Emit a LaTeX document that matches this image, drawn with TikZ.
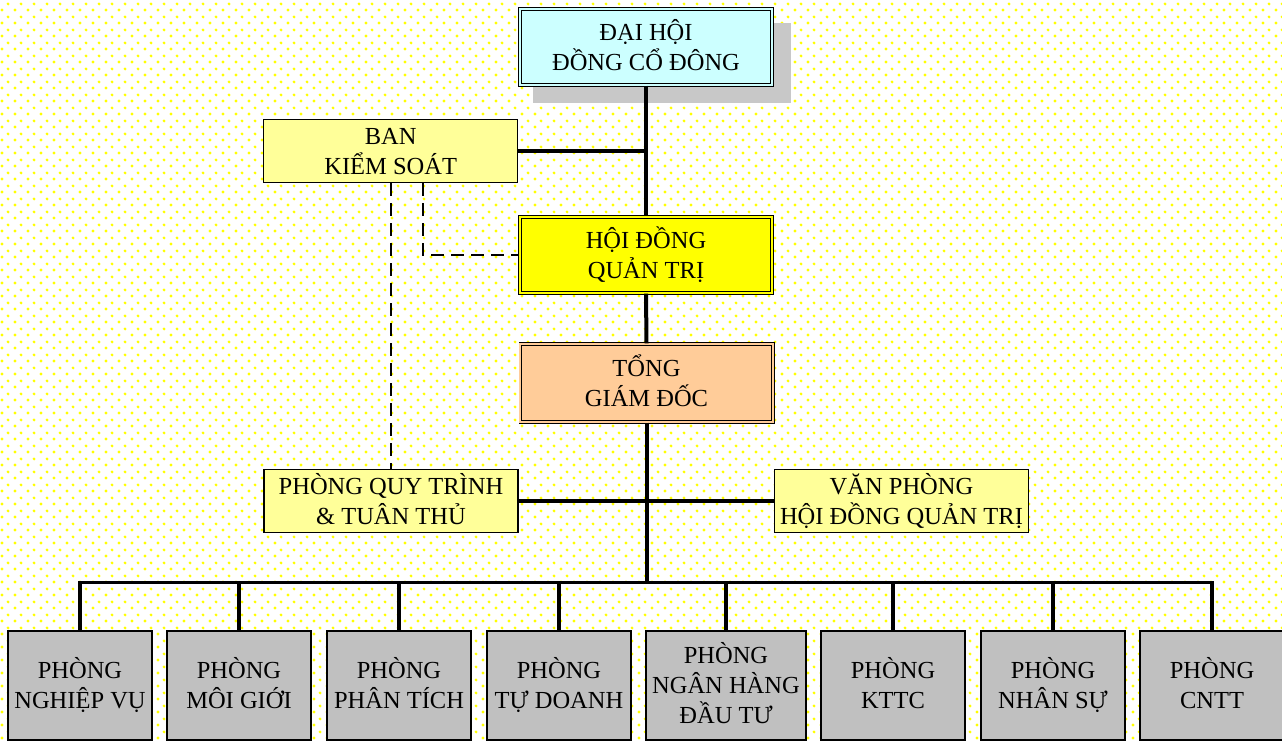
\documentclass[tikz,border=0pt]{standalone}
\usepackage{fontspec}
\setmainfont{Liberation Serif}
\usetikzlibrary{patterns.meta}
\definecolor{cyanfill}{RGB}{204,255,255}
\definecolor{paleyellow}{RGB}{255,255,153}
\definecolor{brightyellow}{RGB}{255,255,0}
\definecolor{peach}{RGB}{255,204,153}
\definecolor{silver}{RGB}{192,192,192}
\definecolor{shadowgray}{RGB}{200,200,200}
\definecolor{dotyellow}{RGB}{255,255,0}
\pgfdeclarepattern{
  name=ydots,
  type=uncolored,
  bottom left={\pgfpoint{0pt}{0pt}},
  top right={\pgfpoint{13pt}{13pt}},
  tile size={\pgfpoint{13pt}{13pt}},
  code={
    \pgfpathcircle{\pgfpoint{3.25pt}{3.25pt}}{1.7pt}
    \pgfpathcircle{\pgfpoint{9.75pt}{9.75pt}}{1.7pt}
    \pgfusepath{fill}
  }
}
\tikzset{
  box/.style={rectangle, inner sep=0pt, align=center, font=\fontsize{24.5}{30}\selectfont,
    text height=46pt, text depth=0pt},
  singlebox/.style={box, draw=black, line width=1.2pt, fill=paleyellow,
    minimum width=254pt, minimum height=63pt},
  dblbox/.style={box, draw=black, line width=0.9pt, double distance=1.8pt,
    minimum width=252.4pt, minimum height=76.4pt},
  deptbox/.style={box, draw=black, line width=1.2pt, fill=silver,
    minimum width=144pt, minimum height=109pt},
  conn/.style={line width=4pt, black, line join=miter},
  subconn/.style={line width=3.5pt, black, line join=miter},
  dashline/.style={line width=2.8pt, black, dash pattern=on 13pt off 7pt}
}
\begin{document}
\begin{tikzpicture}[x=1pt,y=-1pt]
\useasboundingbox (0,0) rectangle (1282,740);
\clip (0,0) rectangle (1282,740);
\fill[white] (0,0) rectangle (1282,740);
\fill[pattern=ydots, pattern color=dotyellow] (0,0) rectangle (1282,740);

% shadow of top box
\fill[shadowgray] (533,23) rectangle (791,103);

\node[dblbox, fill=cyanfill, double=cyanfill] (dh) at (646,47) {ĐẠI HỘI\\ĐỒNG CỔ ĐÔNG};
\node[singlebox] (ban) at (390.7,151) {BAN\\KIỂM SOÁT};
\node[dblbox, fill=brightyellow, double=brightyellow] (hd) at (646,255) {HỘI ĐỒNG\\QUẢN TRỊ};
\node[dblbox, fill=peach, double=peach, minimum height=78.4pt] (tg) at (646.5,383) {TỔNG\\GIÁM ĐỐC};
\node[singlebox] (quy) at (391,501) {PHÒNG QUY TRÌNH\\\& TUÂN THỦ};
\node[singlebox] (vp) at (901.5,501) {VĂN PHÒNG\\HỘI ĐỒNG QUẢN TRỊ};

\node[deptbox] (p1) at (80,685.5) {PHÒNG\\NGHIỆP VỤ};
\node[deptbox] (p2) at (239,685.5) {PHÒNG\\MÔI GIỚI};
\node[deptbox] (p3) at (399,685.5) {PHÒNG\\PHÂN TÍCH};
\node[deptbox] (p4) at (559,685.5) {PHÒNG\\TỰ DOANH};
\node[deptbox, minimum width=160pt, text height=76pt] (p5) at (726,685.5) {PHÒNG\\NGÂN HÀNG\\ĐẦU TƯ};
\node[deptbox] (p6) at (893,685.5) {PHÒNG\\KTTC};
\node[deptbox] (p7) at (1053,685.5) {PHÒNG\\NHÂN SỰ};
\node[deptbox] (p8) at (1212,685.5) {PHÒNG\\CNTT};

\coordinate (bar) at (646,582.5);
\coordinate (d1) at (391,0);
\coordinate (d2) at (423,0);

% main trunk
\draw[conn] (dh.south) -- (hd.north);
\draw[conn] (ban.east) -- (ban.east -| dh.south);
\draw[conn] (hd.south) -- (tg.north);
\draw[conn] (tg.south) -- (tg.south |- bar);
\draw[conn] (quy.east) -- (quy.east -| tg.south);
\draw[conn] (vp.west) -- (vp.west -| tg.south);

% dashed supervision lines
\draw[dashline] (ban.south -| d1) -- (quy.north -| d1);
\draw[dashline] (ban.south -| d2) |- (hd.west);

% department bar
\draw[subconn] (p1.north) -- (p1.north |- bar) -- (p8.north |- bar) -- (p8.north);
\foreach \p in {p2,p3,p4,p5,p6,p7}{
  \draw[subconn] (\p.north) -- (\p.north |- bar);
}
\end{tikzpicture}
\end{document}
